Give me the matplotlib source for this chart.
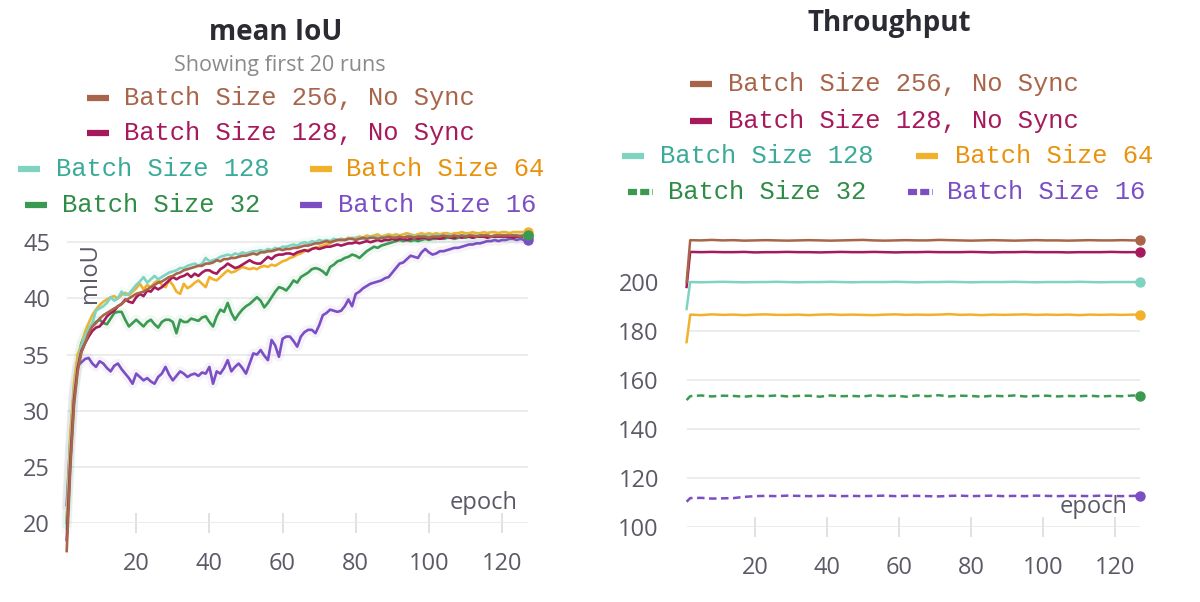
import numpy as np
import matplotlib
matplotlib.use("Agg")
import matplotlib.pyplot as plt
from matplotlib.lines import Line2D

# ── data ──────────────────────────────────────────────────────────────────────
labels = ["Batch Size 256, No Sync", "Batch Size 128, No Sync", "Batch Size 128",
          "Batch Size 64", "Batch Size 32", "Batch Size 16"]
line_colors = ["#a8654a", "#a61a5c", "#7fd3c1", "#f2b12c", "#3a9a52", "#7b4ec4"]
text_colors = ["#a8654a", "#a61a5c", "#3aab99", "#e8920e", "#2f8c47", "#7b4ec4"]

epochs = np.arange(1, 128)

miou_bs256_nosync = [
    17.5, 25.0, 30.5, 33.5, 35.2, 36.0, 36.9, 37.5, 37.8, 38.2,
    38.5, 38.7, 38.9, 39.1, 39.3, 39.5, 39.8, 40.0, 40.2, 40.4,
    40.5, 40.6, 40.8, 41.0, 41.2, 41.4, 41.5, 41.7, 41.9, 42.0,
    42.2, 42.3, 42.5, 42.6, 42.7, 42.8, 42.9, 42.9, 43.1, 43.1,
    43.2, 43.4, 43.3, 43.5, 43.5, 43.6, 43.6, 43.7, 43.8, 43.8,
    43.9, 44.0, 43.9, 44.1, 44.1, 44.2, 44.2, 44.3, 44.4, 44.3,
    44.4, 44.4, 44.5, 44.5, 44.6, 44.7, 44.7, 44.8, 44.9, 44.9,
    45.0, 45.1, 45.0, 45.1, 45.2, 45.2, 45.2, 45.3, 45.3, 45.2,
    45.3, 45.4, 45.3, 45.4, 45.4, 45.3, 45.4, 45.4, 45.5, 45.4,
    45.4, 45.5, 45.4, 45.5, 45.5, 45.4, 45.5, 45.5, 45.5, 45.4,
    45.5, 45.5, 45.5, 45.6, 45.5, 45.5, 45.6, 45.5, 45.6, 45.5,
    45.6, 45.6, 45.5, 45.6, 45.6, 45.6, 45.5, 45.6, 45.6, 45.6,
    45.6, 45.6, 45.6, 45.6, 45.5, 45.6, 45.6]
miou_bs128_nosync = [
    18.5, 25.5, 31.0, 33.8, 35.3, 36.0, 36.6, 37.1, 37.4, 37.5,
    37.9, 38.4, 38.7, 38.9, 39.3, 39.5, 39.9, 39.7, 39.6, 40.1,
    40.4, 40.2, 40.7, 40.6, 41.0, 40.8, 41.0, 41.3, 41.6, 41.9,
    41.7, 41.9, 42.0, 42.2, 41.9, 42.2, 42.0, 42.3, 42.5, 42.5,
    42.3, 42.2, 42.6, 42.8, 43.1, 42.9, 42.7, 42.8, 43.0, 43.2,
    43.4, 43.2, 43.1, 43.1, 43.4, 43.7, 43.5, 43.8, 43.9, 43.9,
    44.0, 44.0, 43.9, 44.1, 44.2, 44.3, 44.2, 44.4, 44.5, 44.4,
    44.5, 44.6, 44.6, 44.7, 44.8, 44.7, 44.8, 44.9, 44.9, 45.0,
    44.9, 45.0, 45.1, 45.0, 45.1, 45.2, 45.1, 45.2, 45.2, 45.3,
    45.2, 45.3, 45.3, 45.2, 45.3, 45.4, 45.3, 45.4, 45.4, 45.3,
    45.4, 45.4, 45.3, 45.4, 45.5, 45.4, 45.4, 45.5, 45.4, 45.5,
    45.5, 45.4, 45.5, 45.5, 45.5, 45.4, 45.5, 45.5, 45.5, 45.5,
    45.5, 45.5, 45.4, 45.5, 45.5, 45.5, 45.5]
miou_bs128 = [
    19.5, 26.5, 31.5, 34.0, 35.8, 36.6, 37.3, 37.8, 38.9, 39.1,
    39.3, 39.6, 40.1, 39.8, 40.0, 40.6, 40.3, 40.4, 40.8, 41.2,
    41.5, 41.9, 41.4, 41.7, 42.0, 41.7, 41.9, 42.1, 42.3, 42.4,
    42.5, 42.7, 42.7, 42.9, 43.0, 43.1, 42.9, 43.1, 43.6, 43.3,
    43.4, 43.5, 43.7, 43.8, 43.9, 43.8, 44.0, 43.9, 44.1, 44.0,
    44.1, 44.2, 44.2, 44.3, 44.2, 44.4, 44.3, 44.5, 44.4, 44.6,
    44.6, 44.7, 44.8, 44.7, 44.9, 45.0, 44.9, 45.1, 45.0, 45.2,
    45.1, 45.2, 45.1, 45.3, 45.2, 45.3, 45.2, 45.3, 45.4, 45.3,
    45.4, 45.3, 45.4, 45.5, 45.4, 45.5, 45.4, 45.5, 45.5, 45.4,
    45.5, 45.5, 45.4, 45.5, 45.6, 45.5, 45.5, 45.6, 45.5, 45.6,
    45.5, 45.6, 45.6, 45.5, 45.6, 45.6, 45.5, 45.6, 45.6, 45.6,
    45.6, 45.5, 45.6, 45.6, 45.6, 45.6, 45.5, 45.6, 45.6, 45.6,
    45.6, 45.6, 45.5, 45.6, 45.6, 45.5, 45.5]
miou_bs64 = [
    20.5, 28.0, 32.5, 35.0, 35.8, 37.0, 37.8, 38.5, 39.0, 39.4,
    39.7, 39.9, 40.1, 40.2, 40.0, 40.3, 40.5, 40.3, 40.6, 40.9,
    41.3, 40.8, 41.2, 41.0, 41.4, 41.6, 41.2, 41.0, 41.6, 41.2,
    40.6, 40.4, 41.3, 40.9, 41.1, 41.4, 41.6, 41.3, 41.0, 41.9,
    41.7, 41.6, 41.9, 42.2, 42.5, 42.3, 42.4, 42.6, 42.8, 42.7,
    42.6, 42.7, 42.6, 42.8, 42.9, 42.8, 43.0, 42.9, 43.1, 43.3,
    43.4, 43.6, 43.7, 43.9, 44.0, 44.2, 44.3, 44.4, 44.5, 44.6,
    44.7, 44.8, 44.9, 45.1, 45.2, 45.3, 45.2, 45.4, 45.3, 45.4,
    45.5, 45.4, 45.6, 45.5, 45.6, 45.7, 45.5, 45.6, 45.7, 45.6,
    45.7, 45.6, 45.7, 45.8, 45.7, 45.6, 45.7, 45.8, 45.7, 45.8,
    45.7, 45.8, 45.7, 45.8, 45.8, 45.7, 45.8, 45.8, 45.9, 45.8,
    45.8, 45.9, 45.8, 45.8, 45.9, 45.8, 45.9, 45.9, 45.8, 45.9,
    45.9, 45.8, 45.9, 45.9, 45.9, 45.9, 45.9]
miou_bs32 = [
    20.0, 26.5, 31.5, 34.5, 36.0, 36.8, 37.3, 37.6, 37.9, 38.1,
    37.8, 37.7, 38.2, 38.7, 38.8, 38.8, 38.1, 37.5, 37.8, 38.1,
    37.8, 37.5, 37.9, 38.1, 37.7, 37.4, 37.9, 38.1, 38.1, 37.9,
    36.9, 38.1, 37.9, 37.9, 38.2, 38.1, 38.0, 38.3, 38.4, 37.9,
    37.5, 38.4, 39.0, 38.8, 39.6, 38.7, 38.1, 38.6, 39.0, 39.3,
    39.5, 39.8, 40.1, 39.8, 39.2, 39.6, 40.1, 40.6, 41.0, 40.9,
    40.7, 41.1, 41.6, 41.4, 41.9, 42.1, 42.3, 42.6, 42.7, 42.6,
    42.4, 42.1, 42.8, 43.0, 43.3, 43.4, 43.6, 43.7, 43.9, 43.8,
    43.6, 43.9, 44.2, 44.4, 44.6, 44.5, 44.7, 44.8, 44.9, 45.0,
    45.1, 45.2, 45.1, 45.2, 45.1, 45.2, 45.1, 45.2, 45.3, 45.2,
    45.3, 45.3, 45.4, 45.3, 45.4, 45.4, 45.3, 45.4, 45.5, 45.4,
    45.5, 45.4, 45.5, 45.5, 45.5, 45.6, 45.5, 45.5, 45.6, 45.6,
    45.6, 45.5, 45.6, 45.6, 45.6, 45.6, 45.6]
miou_bs16 = [
    21.6, 27.5, 32.0, 34.0, 34.3, 34.6, 34.7, 34.2, 33.9, 34.4,
    34.2, 33.8, 33.5, 34.0, 34.2, 33.7, 33.3, 32.9, 32.4, 33.3,
    33.0, 32.7, 32.9, 32.6, 32.4, 33.0, 33.3, 33.9, 33.2, 32.7,
    33.1, 33.5, 33.3, 33.0, 33.2, 33.3, 33.1, 33.4, 33.3, 33.9,
    32.4, 33.5, 33.3, 33.8, 34.5, 33.5, 33.9, 34.2, 33.8, 33.3,
    34.2, 35.1, 35.0, 35.4, 34.9, 34.5, 36.3, 35.8, 34.8, 36.4,
    36.6, 36.6, 36.2, 35.7, 36.6, 37.0, 37.2, 37.2, 36.9, 37.6,
    38.5, 38.7, 39.0, 38.9, 38.8, 38.9, 39.3, 39.9, 39.3, 40.4,
    40.6, 40.9, 41.1, 41.3, 41.4, 41.5, 41.6, 41.8, 41.9, 42.3,
    42.7, 43.1, 43.2, 43.5, 43.8, 43.7, 43.6, 44.1, 44.4, 44.1,
    43.9, 44.0, 44.2, 44.2, 44.3, 44.4, 44.5, 44.5, 44.6, 44.7,
    44.8, 44.8, 44.9, 44.9, 45.0, 45.1, 45.1, 45.2, 45.1, 45.2,
    45.2, 45.3, 45.3, 45.2, 45.3, 45.2, 45.2]

tp_epochs = [1, 2, 5, 8, 11, 14, 17, 20, 23, 26, 29, 32, 35, 38, 41, 44, 47, 50,
             53, 56, 59, 62, 65, 68, 71, 74, 77, 80, 83, 86, 89, 92, 95, 98, 101,
             104, 107, 110, 113, 116, 119, 122, 125, 127]
tp_bs256_nosync = [200.0, 217.1, 217.0, 217.2, 217.0, 217.1, 216.9, 217.0, 217.1, 217.0,
                   216.9, 217.0, 217.1, 217.0, 216.9, 217.0, 217.1, 217.2, 217.0, 216.9,
                   217.0, 217.1, 217.0, 217.0, 217.2, 217.1, 217.0, 216.9, 217.0, 217.1,
                   217.0, 216.9, 217.0, 217.1, 217.0, 217.0, 216.9, 217.0, 217.1, 217.0,
                   217.0, 217.1, 217.0, 217.0]
tp_bs128_nosync = [198.0, 212.3, 212.2, 212.3, 212.2, 212.2, 212.3, 212.1, 212.2, 212.2,
                   212.3, 212.2, 212.2, 212.1, 212.2, 212.3, 212.2, 212.2, 212.3, 212.2,
                   212.1, 212.2, 212.2, 212.3, 212.2, 212.2, 212.2, 212.3, 212.2, 212.1,
                   212.2, 212.2, 212.3, 212.2, 212.2, 212.2, 212.1, 212.2, 212.2, 212.2,
                   212.3, 212.2, 212.2, 212.2]
tp_bs128 = [189.0, 200.0, 199.9, 200.0, 200.1, 200.0, 199.9, 200.0, 200.0, 200.1,
            200.0, 199.9, 200.0, 200.0, 200.1, 200.0, 199.9, 200.0, 200.0, 200.0,
            200.1, 200.0, 199.9, 200.0, 200.0, 200.1, 200.0, 199.9, 200.0, 200.0,
            200.0, 200.1, 200.0, 199.9, 200.0, 200.0, 200.0, 200.1, 200.0, 199.9,
            200.0, 200.0, 200.0, 200.0]
tp_bs64 = [175.5, 186.7, 186.5, 186.8, 186.6, 186.7, 186.5, 186.7, 186.8, 186.6,
           186.6, 186.7, 186.5, 186.7, 186.8, 186.6, 186.7, 186.6, 186.5, 186.7,
           186.8, 186.6, 186.7, 186.6, 186.7, 186.9, 186.6, 186.7, 186.5, 186.7,
           186.6, 186.7, 186.8, 186.6, 186.7, 186.6, 186.7, 186.5, 186.7, 186.6,
           186.7, 186.6, 186.7, 186.7]
tp_bs32 = [151.8, 153.4, 153.7, 153.3, 153.6, 153.5, 153.2, 153.6, 153.4, 153.7,
           153.3, 153.5, 153.6, 153.2, 153.7, 153.4, 153.5, 153.3, 153.8, 153.4,
           153.6, 153.2, 153.7, 153.4, 153.8, 153.3, 153.6, 153.5, 153.2, 153.6,
           153.4, 153.7, 153.3, 153.5, 153.6, 153.3, 153.5, 153.4, 153.6, 153.3,
           153.5, 153.4, 153.7, 153.6]
tp_bs16 = [110.3, 111.8, 111.9, 111.6, 111.7, 111.8, 112.3, 112.6, 112.7, 112.6,
           112.8, 112.7, 112.6, 112.7, 112.8, 112.6, 112.7, 112.6, 112.7, 112.8,
           112.6, 112.7, 112.7, 112.6, 112.5, 112.7, 112.8, 112.6, 112.7, 112.8,
           112.6, 112.7, 112.6, 112.8, 112.7, 112.6, 112.7, 112.7, 112.6, 112.8,
           112.7, 112.6, 112.7, 112.8]

miou_series = [miou_bs256_nosync, miou_bs128_nosync, miou_bs128,
               miou_bs64, miou_bs32, miou_bs16]
tp_series = [tp_bs256_nosync, tp_bs128_nosync, tp_bs128, tp_bs64, tp_bs32, tp_bs16]
tp_dashed = [False, False, False, False, True, True]

miou_yticks = [20, 25, 30, 35, 40, 45]
tp_yticks = [100, 120, 140, 160, 180, 200]
xticks = [20, 40, 60, 80, 100, 120]

# ── styling ───────────────────────────────────────────────────────────────────
W, H = 1200, 602
SANS = ["Open Sans", "DejaVu Sans"]
MONO = ["Liberation Mono", "DejaVu Sans Mono"]
TICK_COLOR = "#5a5a66"
GRID_COLOR = "#ebebeb"

fig = plt.figure(figsize=(W / 100, H / 100), dpi=100)


def px(x, y):
    """pixel coords (top-left origin) -> figure fraction"""
    return x / W, 1 - y / H


def style_axes(ax, yticks, ylim, ypad):
    for s in ax.spines.values():
        s.set_visible(False)
    ax.set_xlim(1, 127)
    ax.set_ylim(*ylim)
    ax.set_yticks(yticks)
    ax.set_xticks(xticks)
    ax.yaxis.grid(True, color=GRID_COLOR, linewidth=1.3)
    ax.set_axisbelow(True)
    ax.tick_params(axis="y", length=0, pad=ypad, labelsize=17, labelcolor=TICK_COLOR)
    ax.tick_params(axis="x", direction="inout", length=14, width=1.2,
                   color="#dcdcdc", pad=14, labelsize=17, labelcolor=TICK_COLOR)
    for lab in ax.get_xticklabels() + ax.get_yticklabels():
        lab.set_family(SANS)


# ── left: mean IoU ────────────────────────────────────────────────────────────
ax1 = fig.add_axes([66.7 / W, 79 / H, 461 / W, 292 / H])
style_axes(ax1, miou_yticks, (20, 46), 12)

for vals, c in reversed(list(zip(miou_series, line_colors))):
    if c in ("#3a9a52", "#7b4ec4", "#7fd3c1"):
        ax1.plot(epochs, vals, color=c, linewidth=7, alpha=0.07,
                 solid_joinstyle="round", clip_on=False)
    ax1.plot(epochs, vals, color=c, linewidth=1.9, clip_on=False,
             solid_joinstyle="round")

# end dots: green one ends up on top, as in the dashboard
for i in [0, 1, 2, 3, 5, 4]:
    ax1.plot(epochs[-1], miou_series[i][-1], "o", color=line_colors[i],
             markersize=6.5, clip_on=False)

ax1.text(0.05, 0.96, "mIoU", rotation=90, transform=ax1.transAxes, ha="center",
         va="top", fontsize=17, color=TICK_COLOR, family=SANS)
ax1.text(0.977, 0.068, "epoch", transform=ax1.transAxes, ha="right", va="center",
         fontsize=17, color=TICK_COLOR, family=SANS)

# ── right: Throughput ─────────────────────────────────────────────────────────
ax2 = fig.add_axes([686.6 / W, 75 / H, 453.6 / W, 291.5 / H])
style_axes(ax2, tp_yticks, (100, 219), 20)

for vals, c, dashed in reversed(list(zip(tp_series, line_colors, tp_dashed))):
    ls = (0, (3, 1.8)) if dashed else "-"
    ax2.plot(tp_epochs, vals, color=c, linewidth=1.8, linestyle=ls, clip_on=False)
    ax2.plot(tp_epochs[-1], vals[-1], "o", color=c, markersize=6.5, clip_on=False)

ax2.text(0.973, 0.069, "epoch", transform=ax2.transAxes, ha="right", va="center",
         fontsize=17, color=TICK_COLOR, family=SANS)

# ── titles ────────────────────────────────────────────────────────────────────
fig.text(*px(276, 32), "mean IoU", ha="center", va="center", fontsize=20,
         fontweight="bold", color="#2b2b33", family=SANS)
fig.text(*px(280, 66), "Showing first 20 runs", ha="center", va="center",
         fontsize=15.5, color="#8a8a8a", family=SANS)
fig.text(*px(889, 23), "Throughput", ha="center", va="center", fontsize=20,
         fontweight="bold", color="#2b2b33", family=SANS)


# ── legends (drawn by hand to follow the wrapped layout) ──────────────────────
def legend_entry(x_handle, x_text, y, idx, dashed=False):
    x0, yy = px(x_handle, y)
    x1, _ = px(x_handle + (25 if dashed else 22), y)
    ls = (0, (1.45, 0.5)) if dashed else "-"
    fig.add_artist(Line2D([x0, x1], [yy, yy], transform=fig.transFigure,
                          color=line_colors[idx], linewidth=4.5, linestyle=ls,
                          solid_capstyle="butt", dash_capstyle="butt"))
    fig.text(*px(x_text, y), labels[idx], ha="left", va="center", fontsize=18.4,
             color=text_colors[idx], family=MONO)


left_rows = [(87, 124, 98, 0), (87, 124, 133, 1), (18, 56, 169, 2),
             (310, 346, 169, 3), (25, 62, 205, 4), (300, 338, 205, 5)]
for xh, xt, y, i in left_rows:
    legend_entry(xh, xt, y, i)

right_rows = [(690, 728, 84, 0), (690, 728, 121, 1), (622, 660, 156, 2),
              (916, 955, 156, 3), (628, 668, 192, 4), (908, 947, 192, 5)]
for xh, xt, y, i in right_rows:
    legend_entry(xh, xt, y, i, dashed=tp_dashed[i])

fig.savefig("out.png", dpi=100)
